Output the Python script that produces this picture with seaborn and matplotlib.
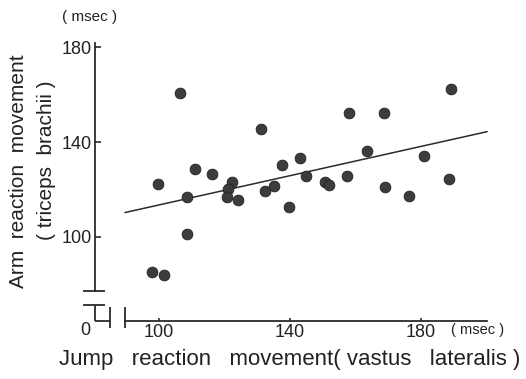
import matplotlib
matplotlib.use("Agg")
import matplotlib.pyplot as plt
import numpy as np
import pandas as pd
import seaborn as sns

# Reaction movement times (msec)
jump_vastus = [97.9, 101.4, 99.7, 106.4, 108.5, 108.6, 111.0, 116.1, 122.2, 121.2,
               120.7, 124.0, 131.1, 132.4, 135.1, 137.5, 139.6, 143.1, 144.8, 150.7,
               151.9, 157.9, 157.5, 163.5, 168.6, 169.0, 176.4, 181.0, 189.2, 188.5]
arm_triceps = [85.4, 84.0, 122.3, 160.5, 101.3, 117.0, 128.6, 126.5, 123.0, 120.2,
               117.0, 115.6, 145.5, 119.5, 121.6, 130.4, 112.8, 133.4, 125.8, 123.0,
               121.9, 152.1, 125.6, 136.2, 152.1, 120.9, 117.3, 134.1, 162.3, 124.3]

# Fitted regression line y = a + b x, drawn over this x span
fit_intercept = 82.7
fit_slope = 0.308
fit_span = [89.6, 200.2]

x_ticks = [100, 140, 180]
y_ticks = [100, 140, 180]

df = pd.DataFrame({"jump": jump_vastus, "arm": arm_triceps})

sns.set_theme(style="white")
plt.rcParams["font.family"] = ["Liberation Sans", "DejaVu Sans"]

W, H = 526, 379
fig = plt.figure(figsize=(W / 100, H / 100), dpi=100)
ax = fig.add_axes([70 / W, (H - 340) / H, 440 / W, 310 / H])
ax.set_xlim(72.82, 207.18)
ax.set_ylim(56.63, 187.16)

ink = "#2b2b2b"
txt = "#222222"

sns.scatterplot(data=df, x="jump", y="arm", ax=ax, s=60, color="#3c3c3c",
                edgecolor="#222222", linewidth=0.6, zorder=3)

xs = np.array(fit_span)
ax.plot(xs, fit_intercept + fit_slope * xs, color=ink, lw=1.1, zorder=2)

# Axes with a break near the origin
x_axis_pos = 80.46
y_axis_pos = 64.63
for side in ["top", "right"]:
    ax.spines[side].set_visible(False)
ax.spines["left"].set_position(("data", x_axis_pos))
ax.spines["left"].set_bounds(77.26, 181.6)
ax.spines["bottom"].set_position(("data", y_axis_pos))
ax.spines["bottom"].set_bounds(89.62, 200.15)
for side in ["left", "bottom"]:
    ax.spines[side].set_color(ink)
    ax.spines[side].set_linewidth(1.3)

ax.set_xticks(x_ticks)
ax.set_yticks(y_ticks)
ax.set_xticklabels([str(t) for t in x_ticks])
ax.set_yticklabels([str(t) for t in y_ticks])
ax.tick_params(axis="y", direction="in", length=4, width=1.2, color=ink,
               labelsize=13, pad=2, labelcolor=txt, left=True)
ax.tick_params(axis="x", direction="in", length=2.5, width=1.2, color=ink,
               labelsize=13, pad=2, labelcolor=txt, bottom=True)
ax.set_xlabel("")
ax.set_ylabel("")

brk = dict(color=ink, lw=1.3, clip_on=False, solid_capstyle="butt")
ax.plot([76.8, 83.5], [77.26, 77.26], **brk)
ax.plot([76.8, 83.5], [71.37, 71.37], **brk)
ax.plot([x_axis_pos, x_axis_pos], [71.37, y_axis_pos], **brk)
ax.plot([x_axis_pos, 85.04], [y_axis_pos, y_axis_pos], **brk)
ax.plot([85.04, 85.04], [61.7, 70.5], **brk)
ax.plot([89.62, 89.62], [61.7, 70.5], **brk)

ax.text(77.4, 60.8, "0", ha="center", va="center", fontsize=13,
        color=txt, clip_on=False)

def px(x, y):
    return x / W, 1 - y / H

fig.text(*px(478, 330), "( msec )", ha="center", va="center", fontsize=10.5, color=txt)
fig.text(*px(90, 17), "( msec )", ha="center", va="center", fontsize=11, color=txt)
fig.text(*px(290, 360), "Jump   reaction   movement( vastus   lateralis )",
         ha="center", va="center", fontsize=16, color=txt)
fig.text(*px(19, 171), "Arm  reaction  movement", rotation=90,
         ha="center", va="center", fontsize=15, color=txt)
fig.text(*px(47, 160), "( triceps  brachii )", rotation=90,
         ha="center", va="center", fontsize=15, color=txt)

fig.savefig("out.png", dpi=100, facecolor="white")
